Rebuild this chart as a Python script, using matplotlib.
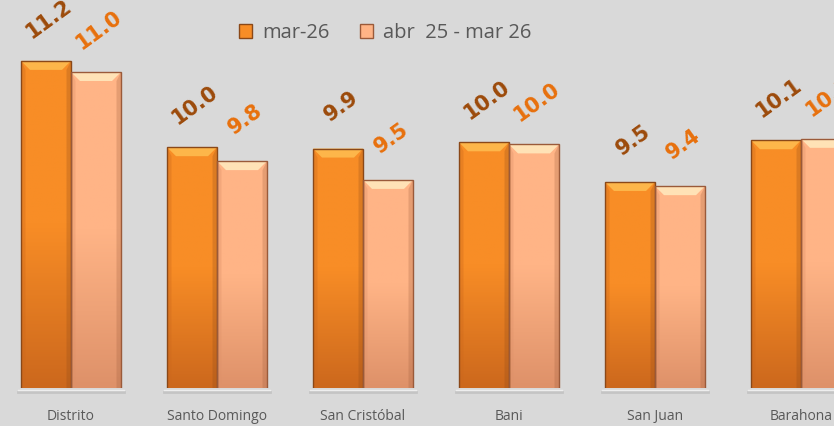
import numpy as np
import matplotlib
matplotlib.use("Agg")
import matplotlib.pyplot as plt
from matplotlib.patches import Patch, Polygon
from matplotlib.colors import LinearSegmentedColormap

# datos
regiones = ["Distrito", "Santo Domingo", "San Cristóbal", "Bani", "San Juan", "Barahona"]
serie_mar26 = [11.20, 9.96, 9.94, 10.03, 9.46, 10.06]
serie_abr_mar = [11.04, 9.76, 9.49, 10.00, 9.40, 10.08]
leyenda = ["mar-26", "abr  25 - mar 26"]

fondo = "#d9d9d9"
gris = "#595959"

fig = plt.figure(figsize=(8.34, 4.26), dpi=100, facecolor=fondo)
# el area del grafico sale por la derecha y por arriba (recorte)
ax = fig.add_axes([0.0, 38 / 426, 1.0, 383 / 426])
ax.set_facecolor(fondo)
ymin, ymax = 6.5, 6.5 + 383 / 69.6
ax.set_ylim(ymin, ymax)
ax.set_xlim(-71 / 146, 763 / 146)

ancho = 50 / 146
x = np.arange(len(regiones))
px_y = 1 / 69.6
px_x = 1 / 146

estilos = [
    # arriba, abajo, bisel, borde, color etiqueta
    ("#f88d26", "#cc681d", "#fdb64a", "#8a4818", "#9c4a0a"),
    ("#ffb486", "#de9169", "#ffe2b6", "#9a5a3a", "#e8700c"),
]

for k, (vals, off) in enumerate([(serie_mar26, -ancho / 2), (serie_abr_mar, ancho / 2)]):
    top_c, bot_c, bev_c, edge_c, lab_c = estilos[k]
    cmap = LinearSegmentedColormap.from_list("g%d" % k, [bot_c, top_c, top_c])
    barras = ax.bar(x + off, vals, width=ancho, bottom=0, facecolor="none",
                    edgecolor=edge_c, linewidth=1.0, zorder=4)
    for rect, v in zip(barras, vals):
        x0 = rect.get_x()
        w = rect.get_width()
        grad = np.linspace(0, 1, 200).reshape(-1, 1)
        im = ax.imshow(grad, extent=(x0, x0 + w, ymin, v), origin="lower",
                       cmap=cmap, aspect="auto", zorder=2)
        im.set_clip_path(rect)
        # bisel superior
        dx, dy = 9 * px_x, 9 * px_y
        ax.add_patch(Polygon([(x0, v), (x0 + w, v), (x0 + w - dx, v - dy), (x0 + dx, v - dy)],
                             closed=True, facecolor=bev_c, edgecolor="none", zorder=3))
        # laterales mas oscuros
        ax.add_patch(Polygon([(x0, v), (x0 + dx * 0.5, v - dy), (x0 + dx * 0.5, ymin), (x0, ymin)],
                             closed=True, facecolor=bot_c, alpha=0.35, edgecolor="none", zorder=3))
        ax.add_patch(Polygon([(x0 + w, v), (x0 + w - dx * 0.5, v - dy), (x0 + w - dx * 0.5, ymin), (x0 + w, ymin)],
                             closed=True, facecolor=edge_c, alpha=0.25, edgecolor="none", zorder=3))
        # etiqueta de datos
        ax.text(x0 + w / 2 + 3 * px_x, v + 42 * px_y, "%.1f" % v, rotation=36,
                ha="center", va="center", fontsize=15, fontweight="bold",
                family="DejaVu Sans", color=lab_c, zorder=5)

# sombra bajo cada grupo
for xi in x:
    ax.plot([xi - ancho - 3 * px_x, xi + ancho + 3 * px_x], [ymin - 4 * px_y] * 2,
            color="#c4c4c4", linewidth=2, clip_on=False, zorder=1)
    ax.plot([xi - ancho - 3 * px_x, xi + ancho + 3 * px_x], [ymin - 2 * px_y] * 2,
            color="#eeeeee", linewidth=1, clip_on=False, zorder=1)

ax.set_xticks(x)
ax.set_xticklabels(regiones, fontsize=10, family="Open Sans", color=gris)
ax.tick_params(axis="x", length=0, pad=15)
ax.set_yticks([])
for s in ax.spines.values():
    s.set_visible(False)

handles = [Patch(facecolor=estilos[0][0], edgecolor=estilos[0][3]),
           Patch(facecolor=estilos[1][0], edgecolor=estilos[1][3])]
fig.legend(handles, leyenda, loc="center", bbox_to_anchor=(0.462, 1 - 33 / 426),
           ncol=2, frameon=False, prop={"family": "Open Sans", "size": 14.5},
           labelcolor=gris, handlelength=0.65, handleheight=0.65,
           handletextpad=0.5, columnspacing=1.5)

fig.savefig("out.png", dpi=100, facecolor=fondo)
